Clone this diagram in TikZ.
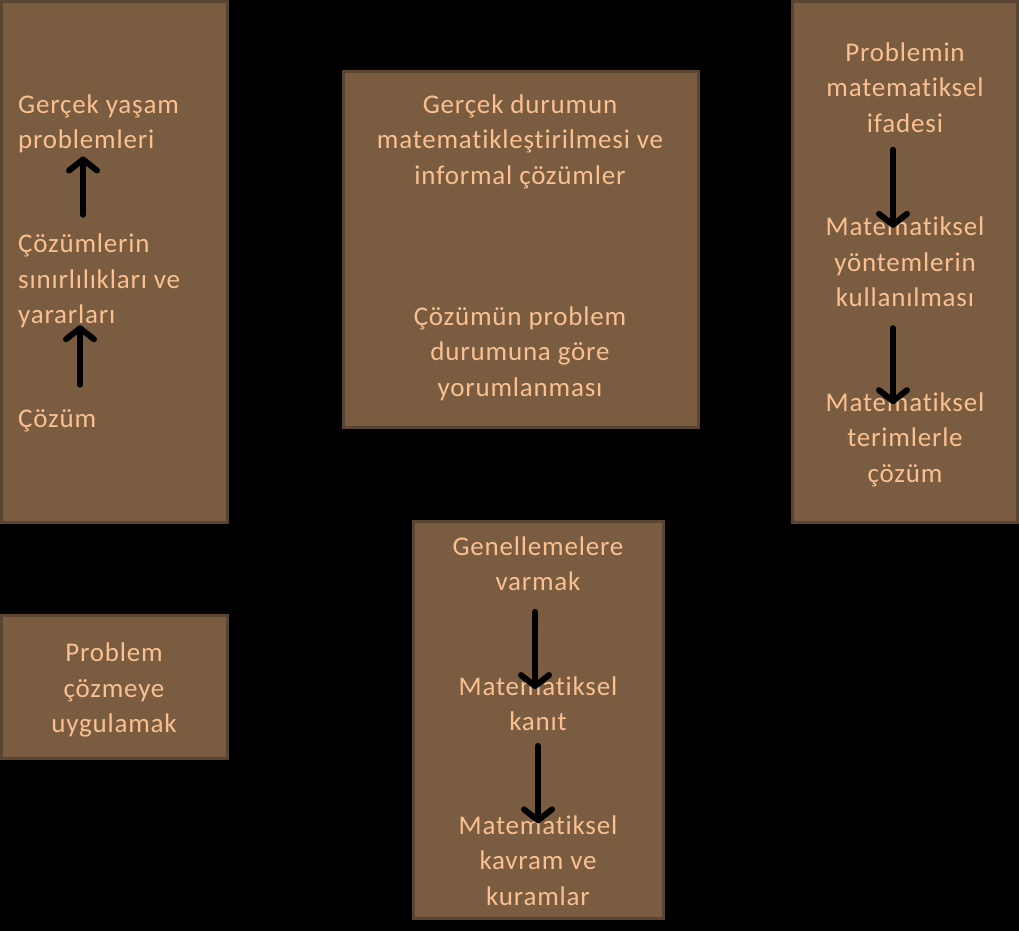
\documentclass[tikz,border=0pt]{standalone}
\usepackage{fontspec}
\setmainfont{Carlito}[LetterSpace=3, Ligatures=NoCommon]
\usetikzlibrary{arrows.meta}
\definecolor{kahve}{HTML}{7A5C41}
\definecolor{kenar}{HTML}{5A4532}
\definecolor{yaziRengi}{HTML}{FAC090}

\begin{document}
\begin{tikzpicture}[x=1pt, y=-1pt,
  kutu/.style={fill=kahve, draw=kenar, line width=3pt},
  etiket/.style={text=yaziRengi, font=\fontsize{27}{35.5}\selectfont, align=center, inner sep=0pt},
  ok/.style={line width=6pt, line cap=round, -{Straight Barb[length=11pt,width=28pt,line cap=round,line join=round]}}]
% Arka plan
\fill[black] (0,0) rectangle (1019,931);
\useasboundingbox (0,0) rectangle (1019,931);

% Kutular
\draw[kutu] (1.5,1.5) rectangle (227,522);   % sol üst
\draw[kutu] (343,72) rectangle (698,427);    % orta
\draw[kutu] (792,1.5) rectangle (1017,522);  % sağ
\draw[kutu] (413,521) rectangle (663,918);   % alt orta
\draw[kutu] (1.5,615) rectangle (227,758);   % sol alt

% Sol kutu
\node[etiket, align=left, anchor=west] (gercek) at (18,124) {Gerçek yaşam\\problemleri};
\node[etiket, align=left, anchor=west] (sinir) at (18,281) {Çözümlerin\\sınırlılıkları ve\\yararları};
\node[etiket, anchor=west] (cozum) at (18,421) {Çözüm};
\draw[ok] ([xshift=62pt,yshift=25pt]cozum.north west) -- ([xshift=62pt,yshift=3pt]sinir.south west);
\draw[ok] ([xshift=65pt,yshift=19pt]sinir.north west) -- ([xshift=65pt,yshift=-3pt]gercek.south west);

% Orta kutu
\node[etiket] (informal) at (520,141.5) {Gerçek durumun\\matematikleştirilmesi ve\\informal çözümler};
\node[etiket] (yorum) at (520,353.7) {Çözümün problem\\durumuna göre\\yorumlanması};

% Sağ kutu
\node[etiket] (ifade) at (905,87.5) {Problemin\\matematiksel\\ifadesi};
\node[etiket] (yontem) at (905,262) {Matematiksel\\yöntemlerin\\kullanılması};
\node[etiket] (terim) at (905,439.5) {Matematiksel\\terimlerle\\çözüm};
\draw[ok] ([xshift=-12pt,yshift=-17pt]ifade.south) -- ([xshift=-12pt,yshift=-11pt]yontem.north);
\draw[ok] ([xshift=-12pt,yshift=-21pt]yontem.south) -- ([xshift=-12pt,yshift=-12pt]terim.north);

% Alt orta kutu
\node[etiket] (genel) at (538,563.5) {Genellemelere\\varmak};
\node[etiket] (kanit) at (538,703.5) {Matematiksel\\kanıt};
\node[etiket] (kavram) at (538,860.5) {Matematiksel\\kavram ve\\kuramlar};
\draw[ok] ([xshift=-3pt,yshift=-21pt]genel.south) -- ([xshift=-3pt,yshift=-13pt]kanit.north);
\draw[ok] ([yshift=-15pt]kanit.south) -- ([yshift=-8pt]kavram.north);

% Sol alt kutu
\node[etiket] (uygula) at (114,690) {Problem\\çözmeye\\uygulamak};
\end{tikzpicture}
\end{document}
